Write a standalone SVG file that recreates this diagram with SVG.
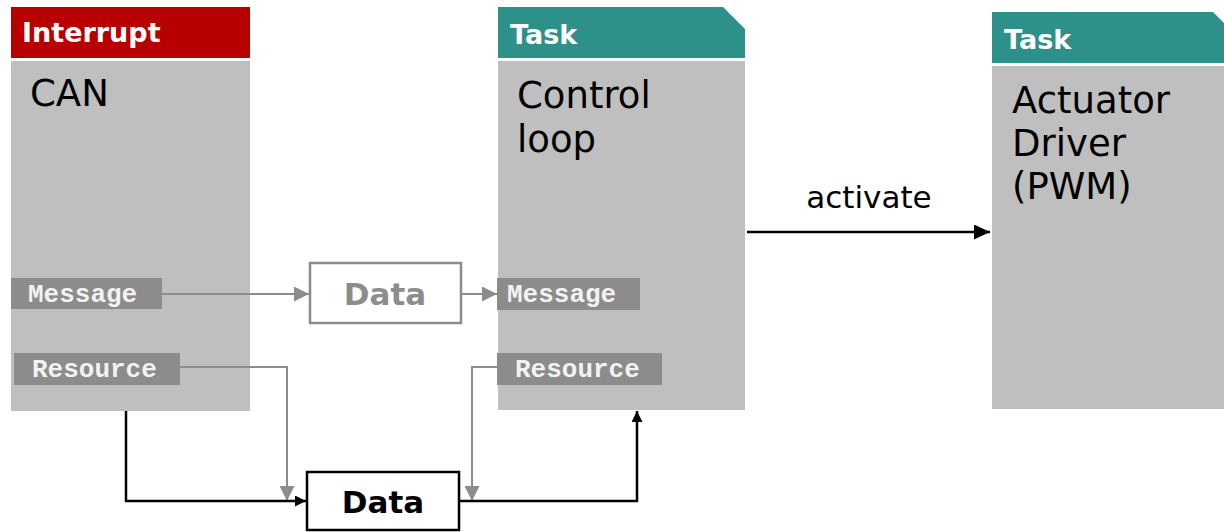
<svg xmlns="http://www.w3.org/2000/svg" width="1224" height="532" viewBox="0 0 1224 532">
<defs>
<style>
.body{fill:#bfbfbf}
.red{fill:#b80000}
.teal{fill:#2e9189}
.hdr{font-family:"DejaVu Sans",Verdana,sans-serif;font-weight:bold;font-size:27px;fill:#fff}
.big{font-family:"DejaVu Sans",Verdana,sans-serif;font-size:37px;fill:#000}
.lbl{fill:#8c8c8c}
.lt{font-family:"Liberation Mono","Courier New",monospace;font-weight:bold;font-size:26px;fill:#f2f2f2}
.g{stroke:#8c8c8c;stroke-width:2;fill:none}
.k{stroke:#000;stroke-width:2.5;fill:none}
.dt{font-family:"DejaVu Sans",Verdana,sans-serif;font-weight:bold;font-size:31px}
</style>
<marker id="ag" markerWidth="15" markerHeight="15" refX="15" refY="7.5" orient="auto" markerUnits="userSpaceOnUse"><path d="M0,0 L15,7.5 L0,15 z" fill="#8c8c8c"/></marker>
<marker id="ak" markerWidth="11" markerHeight="11" refX="11" refY="5.5" orient="auto" markerUnits="userSpaceOnUse"><path d="M0,0 L11,5.5 L0,11 z" fill="#000"/></marker>
<marker id="akb" markerWidth="16" markerHeight="15" refX="16" refY="7.5" orient="auto" markerUnits="userSpaceOnUse"><path d="M0,0 L16,7.5 L0,15 z" fill="#000"/></marker>
</defs>
<rect width="1224" height="532" fill="#fff"/>
<g id="interrupt-can">
<rect class="red" x="11" y="7" width="239" height="51"/>
<text class="hdr" x="22" y="42">Interrupt</text>
<rect class="body" x="11" y="61" width="239" height="350"/>
<text class="big" x="30" y="106">CAN</text>
<rect class="lbl" x="11" y="278" width="151" height="31"/>
<text class="lt" x="28" y="302">Message</text>
<rect class="lbl" x="14" y="353" width="166" height="32"/>
<text class="lt" x="32" y="377">Resource</text>
</g>
<g id="task-control">
<path class="teal" d="M498,7 H723 L745,29 V58 H498 z"/>
<text class="hdr" x="510" y="44">Task</text>
<rect class="body" x="498" y="61" width="247" height="349"/>
<text class="big" x="517" y="108">Control</text>
<text class="big" x="517" y="152">loop</text>
<rect class="lbl" x="497" y="278" width="143" height="32"/>
<text class="lt" x="507" y="302">Message</text>
<rect class="lbl" x="497" y="353" width="165" height="32"/>
<text class="lt" x="515" y="377">Resource</text>
</g>
<g id="task-actuator">
<path class="teal" d="M992,12 H1213 L1224,23 V63 H992 z"/>
<text class="hdr" x="1004" y="49">Task</text>
<rect class="body" x="992" y="66" width="232" height="343"/>
<text class="big" x="1012" y="113">Actuator</text>
<text class="big" x="1012" y="156">Driver</text>
<text class="big" x="1012" y="199">(PWM)</text>
</g>
<g id="data-msg">
<rect x="310" y="263" width="151" height="60" fill="#fff" stroke="#8c8c8c" stroke-width="2.5"/>
<text class="dt" x="385" y="305" text-anchor="middle" fill="#8c8c8c">Data</text>
</g>
<g id="data-res">
<rect x="307" y="472" width="152" height="58" fill="#fff" stroke="#000" stroke-width="2.5"/>
<text class="dt" x="383" y="513" text-anchor="middle" fill="#000">Data</text>
</g>
<g id="connectors">
<path class="g" d="M162,294 H309" marker-end="url(#ag)"/>
<path class="g" d="M461,294 H497" marker-end="url(#ag)"/>
<path class="g" d="M180,367 H287 V501" marker-end="url(#ag)"/>
<path class="g" d="M497,367 H472 V501" marker-end="url(#ag)"/>
<path class="k" d="M126,411 V501 H306" marker-end="url(#ak)"/>
<path class="k" d="M459,501 H637 V411" marker-end="url(#ak)"/>
<path class="k" d="M747,232 H990" marker-end="url(#akb)"/>
<text x="869" y="208" text-anchor="middle" font-family="DejaVu Sans,Verdana,sans-serif" font-size="31" fill="#000">activate</text>
</g>
</svg>
